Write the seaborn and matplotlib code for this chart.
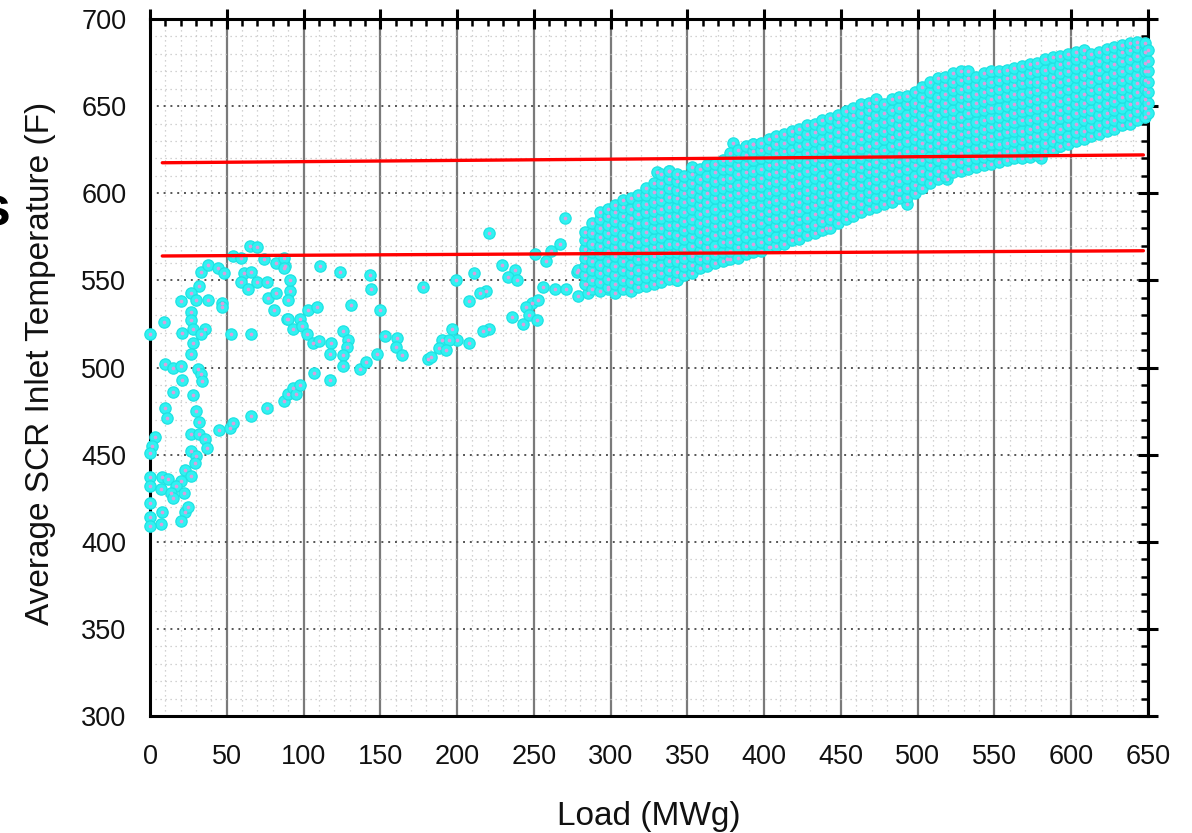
import matplotlib
matplotlib.use("Agg")
import matplotlib.pyplot as plt
import pandas as pd
import seaborn as sns
from matplotlib.ticker import MultipleLocator

# ---- low-load / start-up points (load in MWg, temperature in F) ----
STARTUP_LOAD = [
    0, 9, 20, 33, 38, 44, 48, 32, 27, 30, 38, 47, 47, 27, 27, 28, 36, 21, 33, 28,
    27, 53, 66, 10, 15, 20, 31, 33, 21, 34, 15, 28, 10, 30, 11, 32, 3, 27, 32, 36,
    37, 27, 1, 0, 30, 29, 23, 27, 0, 8, 12, 20, 17, 0, 7, 14, 22, 15, 0, 8,
    23, 25, 0, 20, 7, 0,
    45, 52, 54, 66, 76, 87, 90, 93, 95, 98, 107, 117,
    65, 70, 54, 59, 74, 82, 88, 61, 66, 70, 76, 59, 64, 77, 82, 81, 89, 91,
    87, 87, 91, 90,
    111, 124, 143, 144, 178, 131, 150, 103, 109, 90, 98, 93, 99, 102, 106, 110,
    118, 126, 129, 128, 126, 126, 117, 137, 141, 148, 153, 161, 160, 164, 181,
    199, 211, 221, 229, 238, 233, 239, 251, 258, 261, 267, 278, 279, 256, 264,
    271, 219, 215, 208, 249, 253, 245, 236, 243, 247, 252, 221, 217, 208, 197,
    200, 190, 195, 188, 193, 183, 270, 285, 298, 284, 279,
]
STARTUP_TEMP = [
    519, 526, 538, 555, 559, 557, 554, 547, 543, 539, 539, 537, 535, 532, 527, 522, 522, 520, 519, 514,
    508, 519, 519, 502, 500, 501, 499, 496, 493, 492, 486, 484, 477, 475, 471, 469, 460, 462, 462, 459,
    454, 452, 455, 451, 449, 445, 441, 438, 437, 437, 436, 435, 432, 432, 430, 428, 428, 425, 422, 417,
    417, 420, 414, 412, 410, 409,
    464, 465, 468, 472, 477, 481, 485, 488, 485, 490, 497, 493,
    570, 569, 564, 563, 562, 560, 558, 554, 555, 549, 549, 549, 545, 540, 543, 533, 528, 544,
    563, 557, 550, 539,
    558, 555, 553, 545, 546, 536, 533, 533, 535, 528, 528, 522, 524, 519, 514, 515,
    514, 521, 516, 512, 507, 501, 508, 499, 503, 508, 518, 517, 512, 507, 505,
    550, 554, 577, 559, 556, 552, 550, 565, 561, 567, 571, 555, 541, 546, 545,
    545, 544, 543, 538, 537, 539, 535, 529, 525, 530, 527, 522, 521, 514, 522,
    516, 516, 516, 511, 510, 506, 586, 543, 545, 548, 556,
]

# ---- scattered readings just outside the main operating band ----
EDGE_LOAD = [330, 338, 368, 380, 393, 404, 440, 493, 519, 580, 593, 376, 343]
EDGE_TEMP = [612, 613, 617, 629, 628, 569, 580, 594, 608, 620, 627, 562, 550]

# ---- normal operation band: one column of temperatures per load value ----
BAND_LOAD = [
    283, 288, 293, 298, 303, 308, 313, 318, 323, 328, 333, 338, 343, 348, 353,
    358, 363, 368, 373, 378, 383, 388, 393, 398, 403, 408, 413, 418, 423, 428,
    433, 438, 443, 448, 453, 458, 463, 468, 473, 478, 483, 488, 493, 498, 503,
    508, 513, 518, 523, 528, 533, 538, 543, 548, 553, 558, 563, 568, 573, 578,
    583, 588, 593, 598, 603, 608, 613, 618, 623, 628, 633, 638, 643, 648, 650,
]
BAND_TEMP = [
    [548, 553, 558, 563, 568, 573, 578],
    [545, 550, 556, 561, 566, 571, 577, 583],
    [544, 549, 554, 559, 565, 570, 575, 580, 585, 589],
    [546, 551, 556, 561, 567, 572, 577, 582, 587, 591],
    [543, 548, 553, 558, 564, 569, 574, 579, 584, 589, 593],
    [545, 550, 556, 561, 566, 571, 576, 582, 587, 592, 596],
    [544, 549, 554, 559, 565, 570, 575, 580, 586, 591, 597],
    [546, 551, 556, 562, 567, 572, 577, 583, 588, 593, 599],
    [547, 552, 557, 562, 568, 573, 578, 583, 589, 594, 599, 603],
    [548, 553, 559, 564, 569, 574, 580, 585, 590, 595, 601, 606],
    [549, 554, 559, 565, 570, 575, 580, 586, 591, 596, 601, 606, 611],
    [551, 556, 561, 566, 571, 577, 582, 587, 592, 598, 603, 608, 613],
    [550, 555, 561, 566, 571, 576, 582, 587, 592, 597, 602, 607, 611],
    [553, 558, 563, 568, 574, 579, 584, 589, 595, 600, 605, 610],
    [554, 559, 564, 570, 575, 580, 585, 591, 596, 601, 606, 611, 615],
    [557, 562, 567, 572, 578, 583, 588, 593, 598, 603, 608, 614],
    [558, 563, 569, 574, 579, 584, 590, 595, 600, 605, 610, 616],
    [560, 565, 570, 576, 581, 586, 591, 597, 602, 607, 612, 617],
    [561, 566, 572, 577, 582, 587, 593, 598, 603, 608, 614, 619],
    [562, 567, 572, 578, 583, 588, 593, 599, 604, 609, 614, 619, 623],
    [563, 569, 574, 579, 584, 590, 595, 600, 605, 611, 616, 621, 625],
    [565, 570, 575, 581, 586, 591, 596, 602, 607, 612, 617, 622, 627],
    [566, 571, 577, 582, 587, 592, 598, 603, 608, 613, 619, 624, 628],
    [567, 572, 578, 583, 588, 593, 599, 604, 609, 614, 620, 625, 629],
    [569, 574, 579, 585, 590, 595, 600, 606, 611, 616, 621, 626, 631],
    [570, 575, 581, 586, 591, 596, 602, 607, 612, 617, 623, 628, 633],
    [571, 576, 582, 587, 592, 597, 603, 608, 613, 618, 624, 629, 634],
    [573, 578, 583, 589, 594, 599, 604, 610, 615, 620, 625, 631, 636],
    [574, 579, 585, 590, 595, 600, 606, 611, 616, 621, 627, 632, 637],
    [576, 581, 586, 592, 597, 602, 607, 613, 618, 623, 628, 634, 639],
    [577, 582, 588, 593, 598, 603, 609, 614, 619, 624, 630, 635, 640],
    [579, 584, 589, 595, 600, 605, 610, 616, 621, 626, 631, 637, 642],
    [580, 585, 591, 596, 601, 606, 612, 617, 622, 627, 633, 638, 643],
    [583, 588, 593, 599, 604, 609, 614, 620, 625, 630, 635, 641, 645],
    [585, 590, 595, 600, 606, 611, 616, 621, 627, 632, 637, 642, 647],
    [587, 592, 597, 603, 608, 613, 618, 624, 629, 634, 639, 645, 649],
    [589, 594, 599, 605, 610, 615, 620, 626, 631, 636, 641, 646, 651],
    [591, 596, 601, 606, 612, 617, 622, 627, 633, 638, 643, 648, 652],
    [592, 597, 603, 608, 613, 618, 624, 629, 634, 639, 645, 650, 654],
    [594, 599, 604, 610, 615, 620, 625, 631, 636, 641, 646, 651],
    [595, 600, 606, 611, 616, 621, 627, 632, 637, 642, 648, 654],
    [597, 602, 607, 613, 618, 623, 628, 634, 639, 644, 649, 655],
    [598, 603, 609, 614, 619, 624, 630, 635, 640, 645, 651, 656],
    [600, 605, 610, 616, 621, 626, 631, 637, 642, 647, 652, 658],
    [603, 608, 613, 619, 624, 629, 634, 640, 645, 650, 655, 661],
    [606, 611, 616, 621, 627, 632, 637, 642, 648, 653, 658, 664],
    [608, 613, 619, 624, 629, 634, 640, 645, 650, 655, 661, 666],
    [610, 615, 620, 626, 631, 636, 641, 647, 652, 657, 662, 667],
    [612, 617, 622, 627, 633, 638, 643, 648, 654, 659, 664, 669],
    [613, 618, 623, 629, 634, 639, 644, 650, 655, 660, 665, 670],
    [614, 619, 625, 630, 635, 640, 646, 651, 656, 661, 666, 670],
    [615, 620, 626, 631, 636, 641, 647, 652, 657, 662, 667],
    [616, 621, 627, 632, 637, 642, 648, 653, 658, 663, 669],
    [617, 622, 628, 633, 638, 643, 649, 654, 659, 664, 670],
    [618, 623, 628, 634, 639, 644, 649, 655, 660, 665, 670],
    [619, 624, 629, 635, 640, 645, 650, 656, 661, 666, 671],
    [620, 625, 630, 636, 641, 646, 651, 657, 662, 667, 672],
    [620, 626, 631, 636, 642, 647, 652, 657, 663, 668, 673],
    [621, 627, 632, 637, 642, 648, 653, 658, 664, 669, 674],
    [622, 627, 633, 638, 643, 649, 654, 659, 664, 670, 675],
    [624, 629, 634, 640, 645, 650, 655, 661, 666, 671, 677],
    [625, 630, 636, 641, 646, 651, 657, 662, 667, 672, 678],
    [627, 632, 637, 643, 648, 653, 658, 664, 669, 674, 679],
    [628, 633, 639, 644, 649, 654, 660, 665, 670, 675, 680],
    [630, 635, 640, 646, 651, 656, 661, 667, 672, 677, 681],
    [631, 636, 642, 647, 652, 657, 663, 668, 673, 678, 682],
    [633, 638, 643, 648, 654, 659, 664, 669, 675, 680],
    [634, 639, 645, 650, 655, 660, 666, 671, 676, 681],
    [636, 641, 646, 652, 657, 662, 667, 673, 678, 683],
    [637, 642, 648, 653, 658, 663, 669, 674, 679, 684],
    [639, 644, 649, 655, 660, 665, 670, 676, 681, 685],
    [640, 645, 651, 656, 661, 666, 672, 677, 682, 686],
    [642, 647, 652, 658, 663, 668, 673, 679, 684, 687],
    [644, 649, 654, 660, 665, 670, 675, 681, 686],
    [646, 652, 658, 664, 670, 676, 682],
]

# ---- SCR operating temperature window (red limit lines) ----
LIMIT_LOAD = [8, 647]
UPPER_LIMIT = [617.5, 622]
LOWER_LIMIT = [564, 567]

X_TICKS = [0, 50, 100, 150, 200, 250, 300, 350, 400, 450, 500, 550, 600, 650]
Y_TICKS = [300, 350, 400, 450, 500, 550, 600, 650, 700]

# assemble one long table of all readings
loads, temps = [], []
loads += STARTUP_LOAD
temps += STARTUP_TEMP
loads += EDGE_LOAD
temps += EDGE_TEMP
for x, col in zip(BAND_LOAD, BAND_TEMP):
    loads += [x] * len(col)
    temps += col
df = pd.DataFrame({"load": loads, "temp": temps})

sns.set_theme(style="white")
plt.rcParams["font.family"] = ["Liberation Sans", "DejaVu Sans"]

fig = plt.figure(figsize=(11.92, 8.33), dpi=100)
ax = fig.add_axes([150 / 1192, 1 - 716 / 833, 998 / 1192, 697 / 833])

sns.scatterplot(data=df, x="load", y="temp", ax=ax, s=66, color="#30f2f2",
                edgecolor="#20e2e2", linewidth=0.9, zorder=3, legend=False,
                clip_on=False)
# small tinted centre of every marker
sns.scatterplot(data=df, x="load", y="temp", ax=ax, s=7, color="#dc9ede",
                linewidth=0, zorder=4, legend=False, clip_on=False)

ax.plot(LIMIT_LOAD, UPPER_LIMIT, color="#ff0000", lw=2.4, zorder=5)
ax.plot(LIMIT_LOAD, LOWER_LIMIT, color="#ff0000", lw=2.4, zorder=5)

ax.set_xlim(X_TICKS[0], X_TICKS[-1])
ax.set_ylim(Y_TICKS[0], Y_TICKS[-1])
ax.set_xticks(X_TICKS)
ax.set_yticks(Y_TICKS)
ax.xaxis.set_minor_locator(MultipleLocator(10))
ax.yaxis.set_minor_locator(MultipleLocator(10))

ax.set_axisbelow(True)
ax.grid(which="major", axis="x", color="#7a7a7a", lw=1.6, ls="-")
ax.grid(which="major", axis="y", color="#555555", lw=1.4, ls=(0, (1, 2.5)))
ax.grid(which="minor", axis="both", color="#c4c4c4", lw=0.9, ls=(0, (1, 3)))

for sp in ax.spines.values():
    sp.set_color("black")
    sp.set_linewidth(2.2)

ax.tick_params(which="major", direction="inout", length=14, width=2.2,
               top=True, right=True, color="black", labelsize=19.5, pad=10,
               labelcolor="#111111")
ax.tick_params(axis="x", which="major", pad=13)
ax.tick_params(which="minor", direction="in", length=5, width=1.8,
               top=True, right=True, color="black")

ax.set_xlabel("Load (MWg)", fontsize=24, color="#111111", va="center")
ax.set_ylabel("Average SCR Inlet Temperature (F)", fontsize=24,
              color="#111111", va="center", ha="center")
ax.xaxis.set_label_coords(0.5, (716 - 817) / 697)
ax.yaxis.set_label_coords((40 - 150) / 998, 0.506)

# edge of the neighbouring slide caption
fig.text(10 / 1192, 1 - 226 / 833, "s", fontsize=40, fontweight="bold",
         ha="right", va="baseline", color="black")

fig.savefig("out.png", dpi=100)
